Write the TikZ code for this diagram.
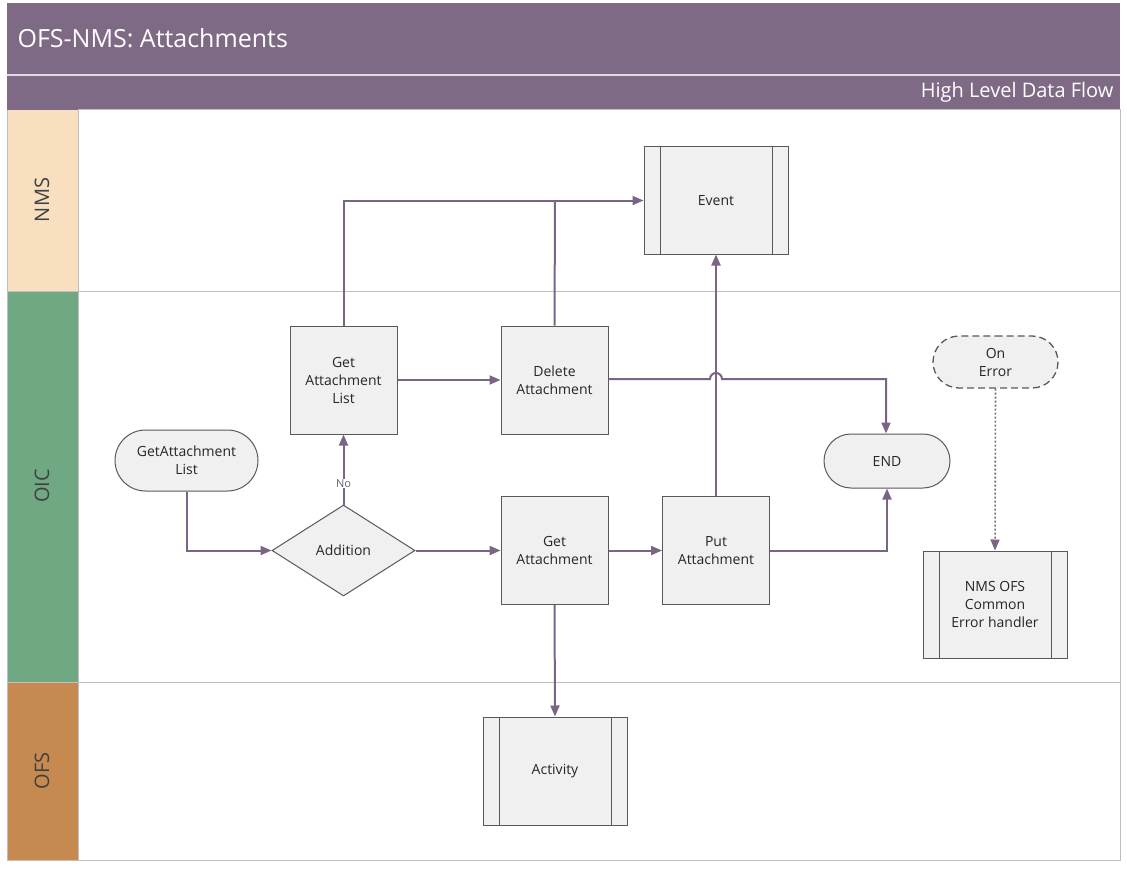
\documentclass[tikz,border=0pt]{standalone}
\usepackage{fontspec}
\setmainfont{Open Sans}
\usetikzlibrary{shapes.geometric,shapes.misc,arrows.meta}
\definecolor{hdr}{HTML}{7F6A85}
\definecolor{nmsc}{HTML}{F7DFBF}
\definecolor{oicc}{HTML}{6FA882}
\definecolor{ofsc}{HTML}{C68A50}
\definecolor{ln}{HTML}{7B6585}
\definecolor{bx}{HTML}{F0F0F0}
\begin{document}
\begin{tikzpicture}[x=1pt,y=-1pt,
 every node/.style={font=\fontsize{14}{18}\selectfont, text=black!85, align=center},
 box/.style={draw=black!65, line width=1pt, fill=bx, minimum width=107pt, minimum height=108pt, inner sep=0},
 sub/.style={draw=black!65, line width=1pt, fill=bx, minimum width=144pt, minimum height=107pt, inner sep=0},
 term/.style={draw=black!65, line width=1pt, fill=bx, rounded rectangle, minimum width=126pt, minimum height=54pt, inner sep=0},
 con/.style={draw=ln, line width=2pt, -{Triangle[length=11pt,width=9pt]}},
 lane/.style={font=\fontsize{20}{24}\selectfont, text=black!75, rotate=90}]
\useasboundingbox (0,0) rectangle (1127,872);
\fill[white] (0,0) rectangle (1127,872);
% header
\fill[hdr] (7,3) rectangle (1120,110);
\draw[white!75!hdr, line width=1.2pt] (7,75) -- (1120,75);
\node[anchor=west, text=white, font=\fontsize{25}{30}\selectfont] (title) at (14,38) {OFS-NMS: Attachments};
\node[anchor=east, text=white, font=\fontsize{20}{24}\selectfont] (subt) at (1117,92) {High Level Data Flow};
% lanes
\fill[nmsc] (7,110) rectangle (78,291);
\fill[oicc] (7,291) rectangle (78,682);
\fill[ofsc] (7,682) rectangle (78,860);
\draw[black!25, line width=1pt] (78,110) rectangle (1120,860);
\draw[black!25, line width=1pt] (7,291) -- (1120,291);
\draw[black!25, line width=1pt] (7,682) -- (1120,682);
\draw[black!25, line width=1pt] (7,110) -- (7,860) -- (78,860);
\node[lane] (lnms) at (42,200) {NMS};
\node[lane] (loic) at (42,486) {OIC};
\node[lane] (lofs) at (42,771) {OFS};
% nodes
\node[sub] (event) at (716,200.5) {Event};
\draw[black!65, line width=1pt] (660,147) -- (660,254) (772,147) -- (772,254);
\node[box] (gal) at (343.5,380) {Get\\Attachment\\List};
\node[box] (del) at (554.5,380) {Delete\\Attachment};
\node[term, dashed, dash pattern=on 7pt off 4pt, line width=1.3pt, minimum width=125pt, minimum height=52pt] (onerr) at (995.5,362) {On\\Error};
\node[term, minimum width=143pt, minimum height=61pt] (start) at (186.5,460.5) {GetAttachment\\List};
\node[term] (end) at (887,461) {END};
\node[diamond, draw=black!65, line width=1pt, fill=bx, aspect=1.57, minimum width=143pt, minimum height=91pt, inner sep=0] (add) at (343.5,550.5) {Addition};
\node[box] (ga) at (554.5,550.5) {Get\\Attachment};
\node[box] (pa) at (716,550.5) {Put\\Attachment};
\node[sub] (err) at (995,604.5) {NMS OFS\\Common\\Error handler};
\draw[black!65, line width=1pt] (939,551) -- (939,658) (1051,551) -- (1051,658);
\node[sub, minimum height=108pt] (act) at (555,771) {Activity};
\draw[black!65, line width=1pt] (499,717) -- (499,825) (611,717) -- (611,825);
\coordinate (j) at (555,201);
% connectors
\draw[con] (start.south) |- (add.west);
\draw[con] (add.east) -- (ga.west);
\draw[con] (add.north) -- node[pos=0.3, fill=white, inner sep=1pt, font=\fontsize{11}{12}\selectfont, text=black!60] (no) {No} (gal.south);
\draw[con] (gal.north) |- (event.west);
\draw[draw=ln, line width=2pt] (del.north) -- (j);
\draw[con] (gal.east) -- (del.west);
\draw[con] (ga.east) -- (pa.west);
\draw[con] (pa.north) -- (event.south);
\draw[con] (del.east |- 0,379) -- (710,379) arc (180:360:6) -- (886,379) -- (end.north -| 886,0);
\draw[con] (pa.east) -| (end.south);
\draw[con] (ga.south) -- (act.north);
\draw[con, dash pattern=on 2pt off 2pt, line width=1.6pt] (onerr.south) -- (err.north);
\end{tikzpicture}
\end{document}
